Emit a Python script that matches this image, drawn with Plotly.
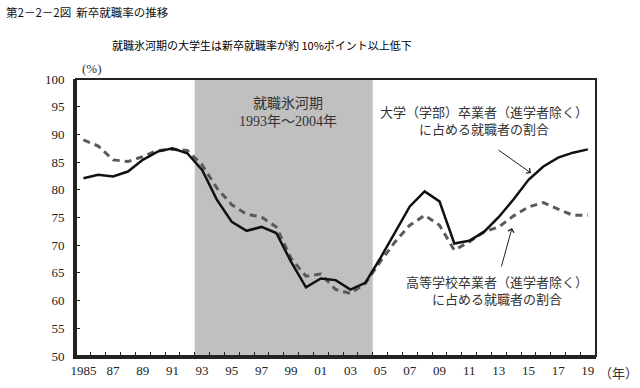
import plotly.graph_objects as go

years = list(range(1985, 2020))
univ = [82.1, 82.7, 82.4, 83.3, 85.4, 86.9, 87.5, 86.6, 83.6, 78.2,
        74.2, 72.6, 73.3, 72.2, 67.0, 62.4, 64.0, 63.7, 62.0, 63.2,
        67.6, 72.4, 77.0, 79.7, 77.9, 70.3, 70.8, 72.4, 75.1, 78.3,
        81.8, 84.2, 85.8, 86.7, 87.3]
high = [89.0, 87.9, 85.4, 85.1, 86.0, 87.1, 87.3, 87.1, 84.5, 80.3,
        77.3, 75.6, 75.1, 73.3, 67.6, 64.4, 64.8, 62.0, 61.3, 63.1,
        67.0, 70.6, 73.6, 75.4, 73.6, 69.1, 70.6, 72.4, 73.3, 75.3,
        76.9, 77.7, 76.5, 75.4, 75.4]
label_years = list(range(1985, 2020, 2))
label_text = ["1985"] + [f"{y % 100:02d}" for y in label_years[1:]]
ice_start, ice_end = 1993, 2004

SERIF = "Liberation Serif, Noto Sans CJK JP, serif"
SANS = "Noto Sans CJK JP, sans-serif"

W, H = 640, 388
L, R, T, B = 76, 44, 79, 32
pw, ph = W - L - R, H - T - B

fig = go.Figure()
fig.add_shape(type="rect", xref="x", yref="y", x0=ice_start - 0.5, x1=ice_end + 0.5,
              y0=50, y1=100, fillcolor="#c0c0c0", line_width=0, layer="below")
fig.add_trace(go.Scatter(x=years, y=high, mode="lines",
                         line=dict(color="#5a5a5a", width=3, dash="7px,5px"),
                         showlegend=False))
fig.add_trace(go.Scatter(x=years, y=univ, mode="lines",
                         line=dict(color="#111111", width=2.5),
                         showlegend=False))
fig.add_shape(type="rect", xref="paper", yref="paper", x0=0, x1=1, y0=0, y1=1,
              line=dict(color="#222", width=2), layer="above")

fig.update_layout(
    template="none",
    width=W, height=H,
    margin=dict(l=L, r=R, t=T, b=B),
    paper_bgcolor="white", plot_bgcolor="white",
    xaxis=dict(range=[1984.5, 2019.55], tickvals=label_years, ticktext=label_text,
               ticks="", showgrid=False, zeroline=False, automargin=False,
               showline=True, linecolor="#222", linewidth=3,
               tickfont=dict(family=SERIF, size=13, color="#222"),
               minor=dict(tickvals=[y + 0.5 for y in range(1984, 2019)],
                          ticks="inside", ticklen=4, tickcolor="#222", tickwidth=1)),
    yaxis=dict(range=[50, 100], dtick=5, ticks="inside", ticklen=4, tickcolor="#222",
               showgrid=False, zeroline=False, showline=True, linecolor="#222", linewidth=3,
               automargin=False, ticklabelstandoff=6,
               tickfont=dict(family=SERIF, size=13, color="#222")),
)

ann = [
    dict(text="第2－2－2図  新卒就職率の推移", x=4, y=12, xanchor="left",
         font=dict(family=SANS, size=11.5, color="#111")),
    dict(text="就職氷河期の大学生は新卒就職率が約 10%ポイント以上低下", x=262, y=45,
         xanchor="center", font=dict(family=SANS, size=11, color="#000")),
    dict(text="(%)", x=92, y=69, xanchor="center", font=dict(family=SERIF, size=13, color="#333")),
    dict(text="（年）", x=618, y=373, xanchor="center", font=dict(family=SERIF, size=13, color="#333")),
    dict(text="就職氷河期<br>1993年～2004年", x=288, y=112, xanchor="center",
         font=dict(family=SERIF, size=14, color="#333")),
    dict(text="大学（学部）卒業者（進学者除く）<br>に占める就職者の割合", x=484, y=121,
         xanchor="center", font=dict(family=SERIF, size=13, color="#333")),
    dict(text="高等学校卒業者（進学者除く）<br>に占める就職者の割合", x=497, y=291,
         xanchor="center", font=dict(family=SERIF, size=13, color="#333")),
]
for a in ann:
    fig.add_annotation(xref="paper", yref="paper",
                       x=(a["x"] - L) / pw, y=(H - B - a["y"]) / ph,
                       xanchor=a["xanchor"], yanchor="middle",
                       text=a["text"], showarrow=False, font=a["font"])

for (x0, y0, x1, y1) in [(497, 149, 531, 173), (501, 268, 512, 228)]:
    fig.add_annotation(xref="paper", yref="paper",
                       x=(x1 - L) / pw, y=(H - B - y1) / ph,
                       ax=x0 - x1, ay=y0 - y1, text="", showarrow=True,
                       arrowhead=4, arrowsize=1.2, arrowwidth=1, arrowcolor="#222")

fig.write_html("out.html", config={"displayModeBar": False},
               post_script="document.body.style.margin='0';")
